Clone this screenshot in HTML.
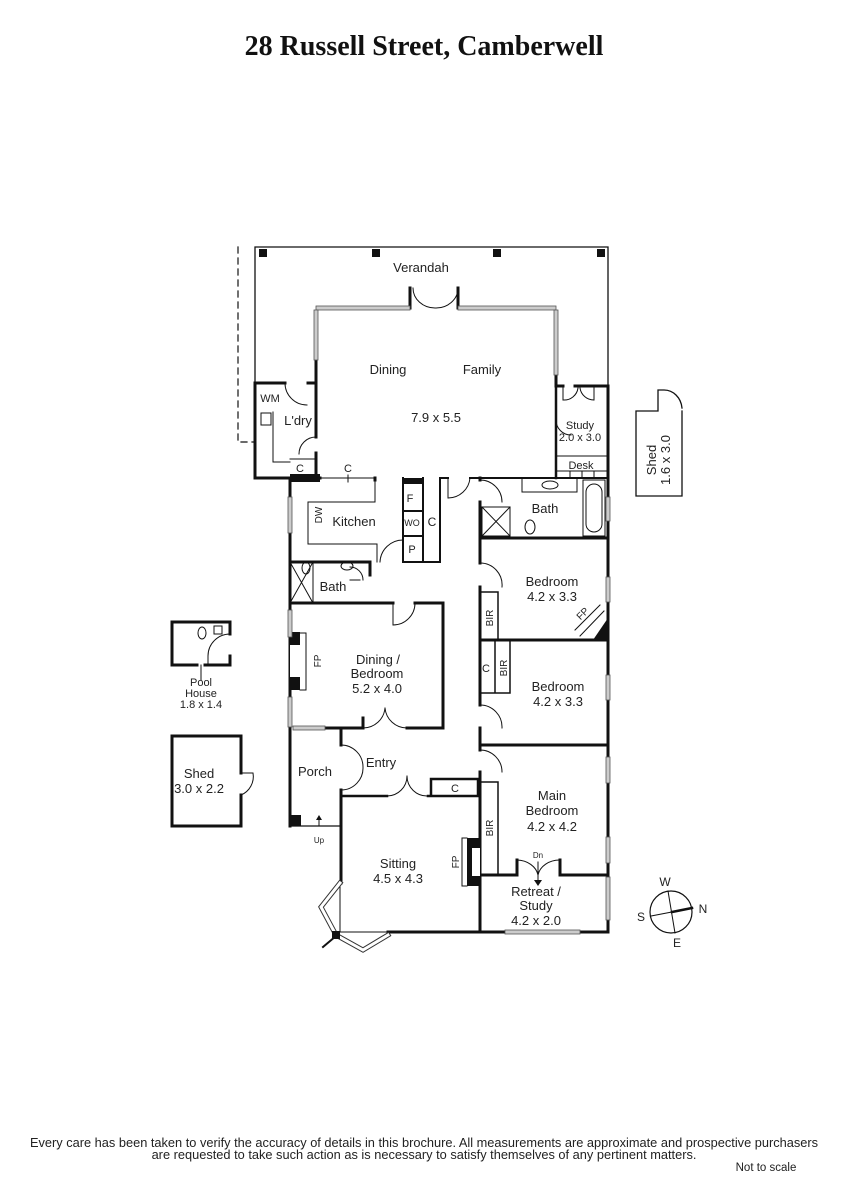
<!DOCTYPE html>
<html><head><meta charset="utf-8"><style>
html,body{margin:0;padding:0;background:#fff;}
svg{display:block;}
text{font-family:"Liberation Sans",sans-serif;fill:#222;}
</style></head><body>
<svg width="848" height="1200" viewBox="0 0 848 1200" xmlns="http://www.w3.org/2000/svg">
<text x="424" y="55" text-anchor="middle" style="font-family:'Liberation Serif',serif;font-weight:bold;font-size:28px;fill:#111">28 Russell Street, Camberwell</text>

<g fill="none" stroke="#111" stroke-linecap="square">
<path d="M255 247 H608 M255 247 V383 M608 247 V386" stroke-width="1.3"/>
<path d="M238 247 V442 H255" stroke-width="1.2" stroke-dasharray="6,5"/>
<path d="M410 308 V288 M458 288 V308 M316 360 V383 M556 375 V386" stroke-width="3"/>
<path d="M413 288 A22 20 0 0 0 435 308 M458 288 A22 20 0 0 1 435 308" stroke-width="1"/>
<path d="M285 383 H255 V478 H290 M308 383 H316 V437 M316 453 V478" stroke-width="3"/>
<path d="M285 383 A22 22 0 0 0 307 405 M316 437 A17 17 0 0 0 299 454" stroke-width="1"/>
<path d="M273 412 V462 H290 M290 459 H316" stroke-width="1"/>
<rect x="261" y="413" width="10" height="12" stroke-width="1"/>
<path d="M556 386 H563 M575 386 H608 M608 386 V932" stroke-width="3"/>
<path d="M563 386 V400 M594 386 V400 M563 400 A14 14 0 0 0 578 388 M594 400 A14 14 0 0 1 580 388 M556 420 A15 15 0 0 0 571 435" stroke-width="1"/>
<path d="M556 456 H608 M556 471 H608 M570 471 V478 M582 471 V478 M594 471 V478" stroke-width="1"/>
<path d="M556 386 V478" stroke-width="2.5"/>
<path d="M290 478 V826 M290 478 H320 M375 478 V480" stroke-width="3"/>
<path d="M320 478 H375 V502 H308 V544 H377 V562 M348 475 V482" stroke-width="1"/>
<path d="M290 562 H370 V575" stroke-width="3"/>
<path d="M313 562 V603 M290 562 L313 603 M313 562 L290 603 M350 567 A13 13 0 0 1 363 580 M350 580 H360" stroke-width="1"/>
<path d="M290 603 H393 M415 603 H443 V728 H407 M363 728 H341 M325 728 H341 V745 M341 790 V883 M363 718 V728" stroke-width="3"/>
<path d="M393 603 V625 A22 22 0 0 0 415 603" stroke-width="1"/>
<path d="M403 478 V562 H440 V478 M423 478 V562 M403 511 H423 M403 536 H423 M440 478 H448 M470 478 H608" stroke-width="2"/>
<path d="M380 562 A23 23 0 0 1 403 540 M448 478 V498 A22 22 0 0 0 470 478" stroke-width="1"/>
<rect x="403" y="478" width="20" height="6" fill="#111" stroke="none"/>
<rect x="290" y="474" width="30" height="8" fill="#111" stroke="none"/>
<path d="M480 478 V480 M480 502 V563 M480 587 V705 M480 728 V750 M480 772 V932 M480 538 H608 M480 640 H608 M480 745 H608 M480 932 H608" stroke-width="3"/>
<path d="M480 480 A22 22 0 0 1 502 502 M480 563 A22 22 0 0 1 502 587 M480 705 A22 22 0 0 1 502 728 M480 750 A22 22 0 0 1 502 772" stroke-width="1"/>
<rect x="482" y="507" width="28" height="29" stroke-width="1"/>
<path d="M482 507 L510 536 M510 507 L482 536" stroke-width="1"/>
<rect x="522" y="478" width="55" height="14" stroke-width="1"/>
<ellipse cx="550" cy="485" rx="8" ry="4" stroke-width="1"/>
<rect x="583" y="480" width="22" height="56" stroke-width="1"/>
<rect x="586" y="484" width="16" height="48" rx="8" stroke-width="1"/>
<ellipse cx="530" cy="527" rx="5" ry="7" stroke-width="1"/>
<ellipse cx="306" cy="568" rx="4" ry="6" stroke-width="1"/>
<ellipse cx="347" cy="566" rx="6" ry="4" stroke-width="1"/>
<path d="M498 592 V640 M480 592 H498 M495 641 V693 M510 641 V693 M480 693 H510 M498 782 V875 M480 782 H498" stroke-width="1.5"/>
<path d="M480 875 H517 M560 875 H608 M517 875 V860 M560 875 V860 M480 932 H388" stroke-width="3"/>
<path d="M517 860 A22 18 0 0 1 538 875 M560 860 A22 18 0 0 0 538 875 M538 862 V884" stroke-width="1"/>
<path d="M534 880 L538 886 L542 880 Z" fill="#111" stroke="none"/>
<path d="M593 640 L608 618 V640 Z" fill="#111" stroke="none"/>
<path d="M575 630 L600 605 M580 636 L604 611" stroke-width="1"/>
<path d="M341 796 H387 M428 796 H480 M431 779 H478 V796 M431 779 V796" stroke-width="2.5"/>
<path d="M363 728 A22 22 0 0 0 385 708 M407 728 A22 22 0 0 1 385 708" stroke-width="1"/>
<path d="M341 745 A22 22 0 0 1 363 767 M341 790 A22 22 0 0 0 363 767 M387 796 A20 20 0 0 0 407 776 M428 796 A20 20 0 0 1 407 776" stroke-width="1"/>
<path d="M290 826 H341" stroke-width="1.2"/>
<rect x="290" y="815" width="11" height="11" fill="#111" stroke="none"/>
<path d="M319 826 V818" stroke-width="1"/>
<path d="M316 820 L319 815 L322 820 Z" fill="#111" stroke="none"/>
<path d="M340 883 V932 H388" stroke-width="1"/>
<path d="M340 883 L321 907 L336 935 L363 950 L388 935" stroke-width="5" stroke="#333"/>
<path d="M340 883 L321 907 L336 935 L363 950 L388 935" stroke-width="3" stroke="#fff"/>
<path d="M336 936 L323 947" stroke-width="2"/>
<rect x="332" y="931" width="8" height="8" fill="#111" stroke="none"/>
<rect x="467" y="838" width="13" height="48" fill="#111" stroke="none"/>
<rect x="472" y="848" width="8" height="28" fill="#fff" stroke="none"/>
<path d="M462 838 V886 H467 M462 838 H467" stroke-width="1"/>
<rect x="290" y="632" width="10" height="58" fill="#111" stroke="none"/>
<rect x="290" y="645" width="10" height="32" fill="#fff" stroke="none"/>
<path d="M300 633 H306 V690 H300" stroke-width="1"/>
<path d="M172 622 H230 V634 M230 656 V665 H205 M197 665 H172 V622" stroke-width="3"/>
<path d="M230 634 A22 22 0 0 0 208 656 V665 M201 665 V680" stroke-width="1"/>
<ellipse cx="202" cy="633" rx="4" ry="6" stroke-width="1"/>
<rect x="214" y="626" width="8" height="8" stroke-width="1"/>
<path d="M241 773 V736 H172 V826 H241 V795" stroke-width="3"/>
<path d="M241 773 H253 A20 20 0 0 1 241 795" stroke-width="1"/>
<path d="M658 411 H636 V496 H682 V411 M658 411 V390 H664 A18 20 0 0 1 682 408" stroke-width="1.3"/>
<circle cx="671" cy="912" r="21" stroke-width="1.2"/>
<path d="M668 891 L675 933 M651 916 L672 912" stroke-width="1"/>
<path d="M672 912 L692 908" stroke-width="2.5"/>
</g>

<g fill="#ccc" stroke="#555" stroke-width="0.8">
<rect x="316" y="306" width="94" height="4"/>
<rect x="458" y="306" width="98" height="4"/>
<rect x="314" y="310" width="4" height="50"/>
<rect x="554" y="310" width="4" height="65"/>
<rect x="288" y="497" width="4" height="36"/>
<rect x="288" y="610" width="4" height="27"/>
<rect x="288" y="697" width="4" height="30"/>
<rect x="293" y="726" width="32" height="4"/>
<rect x="606" y="497" width="4" height="24"/>
<rect x="606" y="577" width="4" height="25"/>
<rect x="606" y="675" width="4" height="25"/>
<rect x="606" y="757" width="4" height="26"/>
<rect x="606" y="837" width="4" height="26"/>
<rect x="606" y="877" width="4" height="43"/>
<rect x="505" y="930" width="75" height="4"/>
</g>
<g fill="#111">
<rect x="259" y="249" width="8" height="8"/>
<rect x="372" y="249" width="8" height="8"/>
<rect x="493" y="249" width="8" height="8"/>
<rect x="597" y="249" width="8" height="8"/>
</g>

<g font-size="13" text-anchor="middle">
<text x="421" y="272">Verandah</text>
<text x="388" y="374">Dining</text>
<text x="482" y="374">Family</text>
<text x="436" y="422">7.9 x 5.5</text>
<text x="270" y="402" font-size="11">WM</text>
<text x="298" y="425">L'dry</text>
<text x="580" y="429" font-size="11">Study</text>
<text x="580" y="441" font-size="11">2.0 x 3.0</text>
<text x="581" y="469" font-size="11">Desk</text>
<text x="300" y="472" font-size="11">C</text>
<text x="348" y="472" font-size="11">C</text>
<text x="354" y="526">Kitchen</text>
<text x="410" y="502" font-size="11">F</text>
<text x="412" y="526" font-size="9">WO</text>
<text x="432" y="526" font-size="12">C</text>
<text x="412" y="553" font-size="11">P</text>
<text x="545" y="513">Bath</text>
<text x="333" y="591">Bath</text>
<text x="552" y="586">Bedroom</text>
<text x="552" y="601">4.2 x 3.3</text>
<text x="378" y="664">Dining /</text>
<text x="377" y="678">Bedroom</text>
<text x="377" y="693">5.2 x 4.0</text>
<text x="486" y="672" font-size="11">C</text>
<text x="558" y="691">Bedroom</text>
<text x="558" y="706">4.2 x 3.3</text>
<text x="201" y="686" font-size="11">Pool</text>
<text x="201" y="697" font-size="11">House</text>
<text x="201" y="708" font-size="11">1.8 x 1.4</text>
<text x="199" y="778">Shed</text>
<text x="199" y="793">3.0 x 2.2</text>
<text x="315" y="776">Porch</text>
<text x="381" y="767">Entry</text>
<text x="455" y="792" font-size="11">C</text>
<text x="552" y="800">Main</text>
<text x="552" y="815">Bedroom</text>
<text x="552" y="831">4.2 x 4.2</text>
<text x="319" y="843" font-size="8">Up</text>
<text x="398" y="868">Sitting</text>
<text x="398" y="883">4.5 x 4.3</text>
<text x="538" y="858" font-size="8">Dn</text>
<text x="536" y="896">Retreat /</text>
<text x="536" y="910">Study</text>
<text x="536" y="925">4.2 x 2.0</text>
<text x="665" y="886" font-size="12">W</text>
<text x="703" y="913" font-size="12">N</text>
<text x="641" y="921" font-size="12">S</text>
<text x="677" y="947" font-size="12">E</text>
</g>
<g font-size="10" text-anchor="middle">
<text transform="translate(322,515) rotate(-90)">DW</text>
<text transform="translate(493,618) rotate(-90)">BIR</text>
<text transform="translate(507,668) rotate(-90)">BIR</text>
<text transform="translate(493,828) rotate(-90)">BIR</text>
<text transform="translate(321,661) rotate(-90)">FP</text>
<text transform="translate(459,862) rotate(-90)">FP</text>
<text transform="translate(585,616) rotate(-45)">FP</text>
</g>
<g font-size="13" text-anchor="middle">
<text transform="translate(656,460) rotate(-90)">Shed</text>
<text transform="translate(670,460) rotate(-90)">1.6 x 3.0</text>
</g>

<g font-size="12.8" text-anchor="middle" style="fill:#222">
<text x="424" y="1147">Every care has been taken to verify the accuracy of details in this brochure.  All measurements are approximate and prospective purchasers</text>
<text x="424" y="1159">are requested to take such action as is necessary to satisfy themselves of any pertinent matters.</text>
<text x="766" y="1171" font-size="11.5">Not to scale</text>
</g>
</svg>
</body></html>
